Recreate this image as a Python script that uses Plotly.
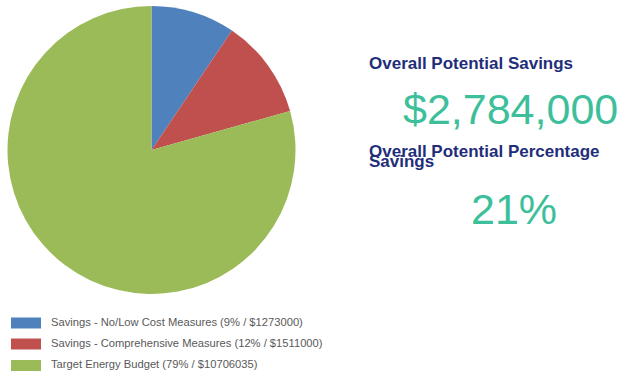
import plotly.graph_objects as go

labels = [
    "Savings - No/Low Cost Measures",
    "Savings - Comprehensive Measures",
    "Target Energy Budget",
]
values = [1273000, 1511000, 10706035]
percents = [9, 12, 79]
colors = ["#4F81BD", "#C0504D", "#9BBB59"]

savings_title = "Overall Potential Savings"
savings_value = "$2,784,000"
pct_title = ["Overall Potential Percentage", "Savings"]
pct_value = "21%"

W, H = 621, 375

fig = go.Figure()
fig.add_trace(go.Pie(
    labels=labels,
    values=values,
    marker=dict(colors=colors, line=dict(width=0)),
    sort=False,
    direction="clockwise",
    rotation=0,
    textinfo="none",
    hoverinfo="label+value+percent",
    showlegend=False,
    domain=dict(x=[7 / W, 296 / W], y=[1 - 294 / H, 1 - 6 / H]),
))

# legend drawn by hand: wide colour swatches with labels
row_y = [323, 344, 365.5]
for lab, pct, val, col, y in zip(labels, percents, values, colors, row_y):
    fig.add_shape(type="rect", xref="paper", yref="paper",
                  x0=11 / W, x1=41 / W, y0=1 - (y + 5.5) / H, y1=1 - (y - 5.5) / H,
                  fillcolor=col, line=dict(width=0))
    fig.add_annotation(x=49 / W, y=1 - (y - 1.5) / H, xref="paper", yref="paper",
                       text=f"{lab} ({pct}% / ${val})", showarrow=False,
                       xanchor="left", yanchor="middle",
                       font=dict(family="Liberation Sans", size=11.2, color="#595959"))

navy = "#1F2E7A"
teal = "#3DBF9B"
fig.add_annotation(x=367 / W, y=1 - 63 / H, xref="paper", yref="paper",
                   text=f"<b>{savings_title}</b>", showarrow=False,
                   xanchor="left", yanchor="middle",
                   font=dict(family="Liberation Sans", size=17, color=navy))
fig.add_annotation(x=620 / W, y=1 - 109 / H, xref="paper", yref="paper",
                   text=savings_value, showarrow=False,
                   xanchor="right", yanchor="middle",
                   font=dict(family="Liberation Sans", size=43, color=teal))
fig.add_annotation(x=367 / W, y=1 - 151 / H, xref="paper", yref="paper",
                   text=f"<b>{pct_title[0]}</b>", showarrow=False,
                   xanchor="left", yanchor="middle",
                   font=dict(family="Liberation Sans", size=17, color=navy))
fig.add_annotation(x=367 / W, y=1 - 162 / H, xref="paper", yref="paper",
                   text=f"<b>{pct_title[1]}</b>", showarrow=False,
                   xanchor="left", yanchor="middle",
                   font=dict(family="Liberation Sans", size=17, color=navy))
fig.add_annotation(x=514 / W, y=1 - 209 / H, xref="paper", yref="paper",
                   text=pct_value, showarrow=False,
                   xanchor="center", yanchor="middle",
                   font=dict(family="Liberation Sans", size=43, color=teal))

fig.update_layout(
    width=W, height=H,
    margin=dict(l=0, r=0, t=0, b=0),
    paper_bgcolor="white",
    plot_bgcolor="white",
)

fig.write_html("out.html", config={"displayModeBar": False},
               post_script="document.body.style.margin = '0';")
